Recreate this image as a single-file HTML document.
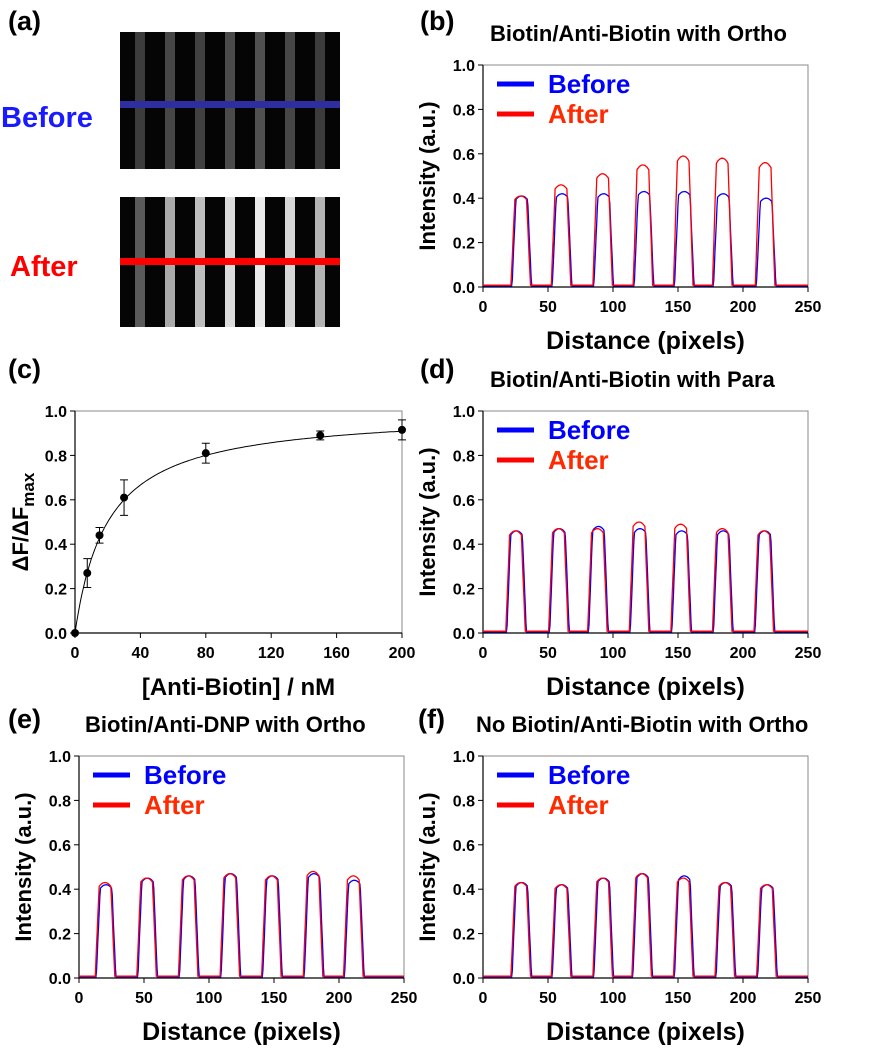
<!DOCTYPE html>
<html><head><meta charset="utf-8"><style>
body{margin:0;background:#fff}
svg{display:block;font-family:"Liberation Sans",Arial,sans-serif;font-weight:bold}
</style></head><body>
<svg id="fig" width="882" height="1050" viewBox="0 0 882 1050" xmlns="http://www.w3.org/2000/svg">
<g>
<text x="8" y="30" font-size="27">(a)</text>
<rect x="120" y="32" width="220" height="137" fill="#050505"/>
<rect x="120" y="197" width="220" height="130" fill="#050505"/>
<g id="stripes"></g>
<rect x="120" y="101" width="220" height="7" fill="#2e2ea0"/>
<rect x="120" y="258" width="220" height="7" fill="#ff0000"/>
<text x="1" y="127" font-size="29" fill="#1a1aff">Before</text>
<text x="10" y="276" font-size="29" fill="#ff0000">After</text>
</g>
<text x="420" y="30" font-size="27">(b)</text>
<text x="8" y="378" font-size="27">(c)</text>
<text x="420" y="378" font-size="27">(d)</text>
<text x="8" y="728" font-size="27">(e)</text>
<text x="418" y="728" font-size="27">(f)</text>
</svg>
<script>
const NS="http://www.w3.org/2000/svg";
const svg=document.getElementById('fig');
// panel (b)
const bCenters=[29,60,92,123,154,184,217];
const bBefore=[0.41,0.42,0.42,0.43,0.43,0.42,0.40];
const bAfter=[0.41,0.46,0.51,0.55,0.59,0.58,0.56];
// panel (d)
const dCenters=[25,58,88,120,152,184,216];
const dBefore=[0.46,0.47,0.48,0.47,0.46,0.46,0.46];
const dAfter=[0.46,0.47,0.47,0.50,0.49,0.47,0.46];
// panel (e)
const eCenters=[20,52,84,116,148,180,211];
const eBefore=[0.42,0.45,0.46,0.47,0.46,0.47,0.44];
const eAfter=[0.43,0.45,0.46,0.47,0.46,0.48,0.46];
// panel (f)
const fCenters=[29,60,92,122,154,186,218];
const fBefore=[0.43,0.42,0.45,0.47,0.46,0.43,0.42];
const fAfter=[0.43,0.42,0.45,0.47,0.45,0.43,0.42];
const profTicksX=[0,50,100,150,200,250];
const profTicksY=[0.0,0.2,0.4,0.6,0.8,1.0];
// panel (a) stripe brightness
const aBefore=[60,70,65,75,80,70,60];
const aAfter=[90,170,190,220,235,215,180];
// panel (c)
const cConc=[0,7.5,15,30,80,150,200];
const cResp=[0,0.27,0.44,0.61,0.81,0.89,0.915];
const cErr=[0,0.065,0.035,0.08,0.045,0.02,0.045];
const cKd=20, cBmax=1.0;
const cTicksX=[0,40,80,120,160,200];

function el(tag,attrs,parent,text){const e=document.createElementNS(NS,tag);for(const k in attrs)e.setAttribute(k,attrs[k]);if(text!==undefined)e.textContent=text;(parent||svg).appendChild(e);return e;}

const sg=document.getElementById('stripes');
aBefore.forEach((b,i)=>{
  const x=135+i*30;
  let r=el('rect',{x:x,y:32,width:10,height:137,fill:`rgb(${b},${b},${b})`},sg);
  
  const g=aAfter[i];
  r=el('rect',{x:x,y:197,width:10,height:130,fill:`rgb(${g},${g},${g})`},sg);
  
});

function axes(g,L,T,W,H,xmax,ymax,ticksX,ticksY){
  const X=v=>L+v/xmax*W, Y=v=>T+H-v/ymax*H;
  el('rect',{x:L,y:T,width:W,height:H,fill:'none',stroke:'#888','stroke-width':1},g);
  el('line',{x1:L,y1:T,x2:L,y2:T+H,stroke:'#000','stroke-width':1.2},g);
  el('line',{x1:L,y1:T+H,x2:L+W,y2:T+H,stroke:'#000','stroke-width':1.2},g);
  ticksX.forEach(t=>{el('line',{x1:X(t),y1:T+H,x2:X(t),y2:T+H+5,stroke:'#000'},g);
    const tx=el('text',{x:X(t),y:T+H+25,'font-size':16,'text-anchor':'middle'},g,t);
    });
  ticksY.forEach(t=>{el('line',{x1:L-5,y1:Y(t),x2:L,y2:Y(t),stroke:'#000'},g);
    const ty=el('text',{x:L-8,y:Y(t)+6,'font-size':16,'text-anchor':'end'},g,t.toFixed(1));
    });
  return {X,Y};
}

function profile(centers,heights,base){
  const pts=[];
  for(let x=0;x<=250;x+=0.5){
    let v=base;
    centers.forEach((c,i)=>{const d=Math.abs(x-c);let f;
      if(d<4.5)f=1-0.04*(d/4.5)*(d/4.5);else if(d<7.5)f=0.96*(1-(d-4.5)/3);else f=0;
      v=Math.max(v,base+(heights[i]-base)*f);});
    pts.push([x,v]);
  }
  return pts;
}

function profilePanel(name,L,T,title,tx,centers,before,after,ylx){
  const g=el('g',{});
  
  const W=325,H=222;
  const {X,Y}=axes(g,L,T,W,H,250,1,profTicksX,profTicksY);
  const bp=profile(centers.map(c=>c+0.8),before,0.005);
  const ap=profile(centers,after,0.008);
  let p=el('path',{d:'M'+bp.map(q=>X(q[0]).toFixed(1)+','+Y(q[1]).toFixed(1)).join('L'),fill:'none',stroke:'#0000ff','stroke-width':1.3},g);
  
  p=el('path',{d:'M'+ap.map(q=>X(q[0]).toFixed(1)+','+Y(q[1]).toFixed(1)).join('L'),fill:'none',stroke:'#ff0000','stroke-width':1.3},g);
  
  let t=el('text',{x:tx,y:T-24,'font-size':22},g,title);
  
  t=el('text',{x:L+W/2,y:T+H+62,'font-size':25,'text-anchor':'middle'},g,'Distance (pixels)');
  
  t=el('text',{x:ylx,y:T+H/2,'font-size':22,'text-anchor':'middle',transform:`rotate(-90 ${ylx} ${T+H/2})`},g,'Intensity (a.u.)');
  
  const lg=el('g',{},g);
  el('line',{x1:L+14,y1:T+19,x2:L+51,y2:T+19,stroke:'#0000ff','stroke-width':5},lg);
  el('line',{x1:L+14,y1:T+49,x2:L+51,y2:T+49,stroke:'#ff0000','stroke-width':5},lg);
  let e=el('text',{x:L+65,y:T+28,'font-size':26,fill:'#0000ff'},lg,'Before');
  
  e=el('text',{x:L+65,y:T+58,'font-size':26,fill:'#ff2a00'},lg,'After');
  
}
profilePanel('panel-b',483,65,'Biotin/Anti-Biotin with Ortho',490,bCenters,bBefore,bAfter,435);
profilePanel('panel-d',483,411,'Biotin/Anti-Biotin with Para',490,dCenters,dBefore,dAfter,435);
profilePanel('panel-e',79,756,'Biotin/Anti-DNP with Ortho',85,eCenters,eBefore,eAfter,31);
profilePanel('panel-f',483,756,'No Biotin/Anti-Biotin with Ortho',476,fCenters,fBefore,fAfter,435);

(function(){
  const g=el('g',{});
  
  const L=75,T=411,W=327,H=222;
  const {X,Y}=axes(g,L,T,W,H,200,1,cTicksX,profTicksY);
  const pts=[];for(let x=0;x<=200;x+=1)pts.push([x,cBmax*x/(cKd+x)]);
  let p=el('path',{d:'M'+pts.map(q=>X(q[0]).toFixed(1)+','+Y(q[1]).toFixed(1)).join('L'),fill:'none',stroke:'#000','stroke-width':1},g);
  
  cConc.forEach((c,i)=>{
    if(cErr[i]>0){const eb=el('path',{d:`M${X(c)},${Y(cResp[i]-cErr[i])}V${Y(cResp[i]+cErr[i])}M${X(c)-4},${Y(cResp[i]-cErr[i])}h8M${X(c)-4},${Y(cResp[i]+cErr[i])}h8`,stroke:'#000',fill:'none','stroke-width':1},g);
      }
    const d=el('circle',{cx:X(c),cy:Y(cResp[i]),r:4,fill:'#000'},g);
    
  });
  let t=el('text',{x:L+W/2,y:T+H+62,'font-size':24,'text-anchor':'middle'},g,'[Anti-Biotin] / nM');
  
  t=el('text',{x:28,y:T+H/2,'font-size':22,'text-anchor':'middle',transform:`rotate(-90 28 ${T+H/2})`},g);
  
  t.innerHTML='ΔF/ΔF<tspan font-size="17" dy="6">max</tspan>';
})();
</script>
</body></html>
